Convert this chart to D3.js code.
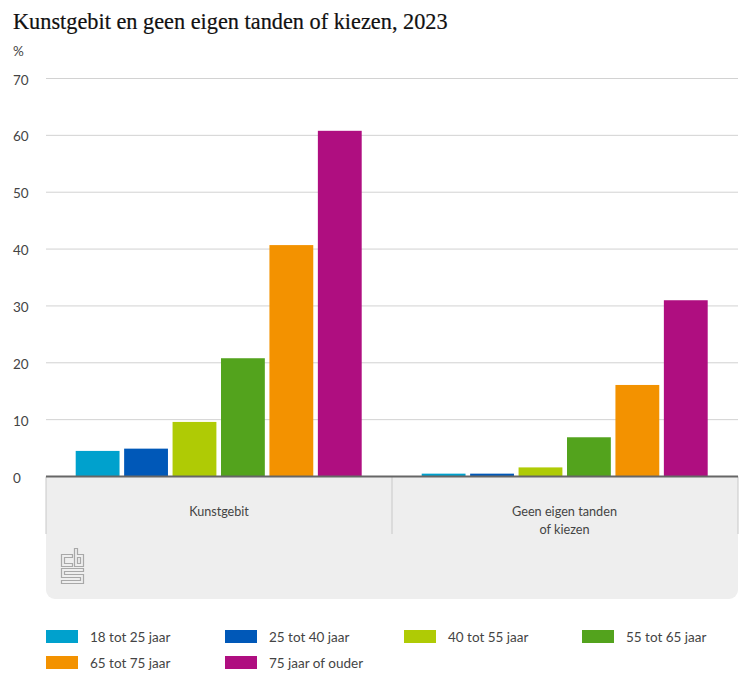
<!DOCTYPE html>
<html>
<head>
<meta charset="utf-8">
<script src="https://cdn.jsdelivr.net/npm/d3@7"></script>
<style>
html, body { margin: 0; padding: 0; background: #fff; }
svg { display: block; }
text { font-family: "Lato", "Noto Sans", sans-serif; fill: #444; }
</style>
</head>
<body>
<div id="wrap"></div>
<script>
var categories = ["Kunstgebit", "Geen eigen tanden of kiezen"];
var ageGroups = ["18 tot 25 jaar", "25 tot 40 jaar", "40 tot 55 jaar", "55 tot 65 jaar", "65 tot 75 jaar", "75 jaar of ouder"];
var kunstgebit = [4.5, 4.9, 9.6, 20.8, 40.7, 60.8];
var geenTanden = [0.5, 0.5, 1.6, 6.9, 16.1, 31.0];
var colors = ["#00a1cd", "#0058b8", "#afcb05", "#53a31d", "#f39200", "#af0e80"];
var yTicks = [0, 10, 20, 30, 40, 50, 60, 70];

var seriesByCategory = [kunstgebit, geenTanden];

var width = 750, height = 688;
var svg = d3.select("#wrap").append("svg").attr("width", width).attr("height", height);

var x0 = d3.scaleBand().domain(categories).range([46, 738]);
var x1 = d3.scaleBand().domain(ageGroups).range([29.7, x0.bandwidth() - 30.3]).paddingInner(0.095);
var y = d3.scaleLinear().domain([0, 70]).range([476.5, 78.5]);

svg.append("text")
    .attr("x", 13).attr("y", 29)
    .style("font-family", "'Liberation Serif', serif")
    .style("font-size", "22.3px")
    .style("fill", "#111")
    .style("stroke", "#111")
    .style("stroke-width", 0.2)
    .text("Kunstgebit en geen eigen tanden of kiezen, 2023");

svg.append("text")
    .attr("x", 13).attr("y", 56)
    .style("font-size", "13.5px")
    .text("%");

// grey panel below the axis
var px = x0.range()[0], pw = x0.range()[1] - px, py = y(0), pb = 599, r = 9;
svg.append("path")
    .attr("fill", "#eeeeee")
    .attr("d", "M" + px + "," + py + "h" + pw + "V" + (pb - r) + "a" + r + "," + r + " 0 0 1 " + (-r) + "," + r
        + "H" + (px + r) + "a" + r + "," + r + " 0 0 1 " + (-r) + "," + (-r) + "Z");

// gridlines and y labels
svg.append("g").selectAll("line")
    .data(yTicks.slice(1))
    .enter().append("line")
    .attr("x1", px).attr("x2", px + pw)
    .attr("y1", function(d) { return y(d); })
    .attr("y2", function(d) { return y(d); })
    .attr("stroke", "#d2d2d2");

svg.append("g").selectAll("text")
    .data(yTicks)
    .enter().append("text")
    .attr("x", 13)
    .attr("y", function(d) { return y(d) + 6; })
    .style("font-size", "13.5px")
    .text(function(d) { return d; });

// bars
var groups = svg.append("g").selectAll("g")
    .data(categories)
    .enter().append("g")
    .attr("transform", function(d) { return "translate(" + x0(d) + ",0)"; });

groups.selectAll("rect")
    .data(function(d, i) { return seriesByCategory[i]; })
    .enter().append("rect")
    .attr("x", function(d, i) { return x1(ageGroups[i]); })
    .attr("width", x1.bandwidth())
    .attr("y", function(d) { return y(d); })
    .attr("height", function(d) { return y(0) - y(d); })
    .attr("fill", function(d, i) { return colors[i]; });

// separators
svg.append("g").selectAll("line")
    .data([px, px + pw / 2, px + pw])
    .enter().append("line")
    .attr("x1", function(d) { return d; })
    .attr("x2", function(d) { return d; })
    .attr("y1", y(0)).attr("y2", 534)
    .attr("stroke", "#c8c8c8");

// zero line
svg.append("line")
    .attr("x1", px).attr("x2", px + pw)
    .attr("y1", y(0)).attr("y2", y(0))
    .attr("stroke", "#666").attr("stroke-width", 2);

// category labels
svg.append("text")
    .attr("x", x0(categories[0]) + x0.bandwidth() / 2)
    .attr("y", 516)
    .attr("text-anchor", "middle")
    .style("font-size", "12.6px")
    .text("Kunstgebit");

var catLines = ["Geen eigen tanden", "of kiezen"];
svg.append("g").selectAll("text")
    .data(catLines)
    .enter().append("text")
    .attr("x", x0(categories[1]) + x0.bandwidth() / 2 - 0.5)
    .attr("y", function(d, i) { return 516 + i * 18; })
    .attr("text-anchor", "middle")
    .style("font-size", "12.7px")
    .text(function(d) { return d; });

// cbs logo
var logo = svg.append("g")
    .attr("transform", "translate(61.5,548.5)")
    .attr("fill", "none")
    .attr("stroke", "#a8a8a8")
    .attr("stroke-width", 1.2);
logo.append("path").attr("d", "M11,6H0V18H11V15H3V9H11Z");
logo.append("path").attr("d", "M13,0H16V6H22V18H13ZM16,9V15H19V9Z");
logo.append("path").attr("d", "M0,20H22V23H3V26H22V35H0V32H19V29H0Z");

// legend
var legendX = [46, 225, 404, 582];
var legendY = [630, 656];
var legend = svg.append("g").selectAll("g")
    .data(ageGroups)
    .enter().append("g")
    .attr("transform", function(d, i) {
        return "translate(" + legendX[i % 4] + "," + legendY[Math.floor(i / 4)] + ")";
    });

legend.append("rect")
    .attr("width", 32).attr("height", 13)
    .attr("fill", function(d, i) { return colors[i]; });

legend.append("text")
    .attr("x", 44).attr("y", 11.5)
    .style("font-size", "13.5px")
    .text(function(d) { return d; });
</script>
</body>
</html>
